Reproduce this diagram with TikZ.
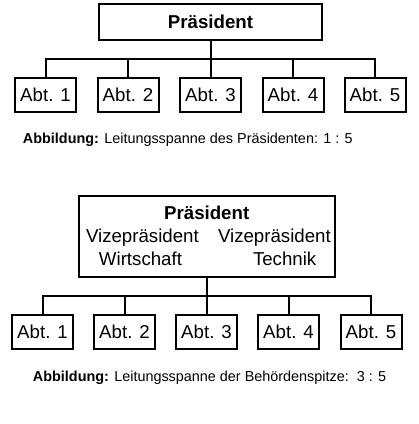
\documentclass[tikz,border=0pt]{standalone}
\usepackage{fontspec}
\setmainfont{Liberation Sans}
\begin{document}
\begin{tikzpicture}[x=1pt,y=-1pt,line width=2pt,
  box/.style={draw,rectangle,inner sep=0pt,minimum width=61pt,minimum height=34pt,font=\fontsize{18.67}{23}\selectfont},
  lbl/.style={inner sep=0pt,anchor=base west,font=\fontsize{18.67}{23}\selectfont},
  captxt/.style={inner sep=0pt,anchor=base west,font=\fontsize{14.4}{17}\selectfont}]
\fill[white] (0,0) rectangle (419,424);
\useasboundingbox (0,0) rectangle (419,424);
% ---- top chart
\node[box,minimum width=223pt,minimum height=36pt,font=\fontsize{18.67}{23}\selectfont\bfseries] (p1) at (210.5,22) {Präsident};
\node[box] (a1) at (45.5,94.7) {Abt. 1};
\node[box] (a2) at (128,94.7) {Abt. 2};
\node[box] (a3) at (210.5,94.7) {Abt. 3};
\node[box] (a4) at (293,94.7) {Abt. 4};
\node[box] (a5) at (375,94.7) {Abt. 5};
\coordinate (bus1) at (210.5,59);
\draw (p1.south) -- (bus1);
\draw (a1.north) |- (bus1) -| (a5.north);
\draw (a2.north) -- (a2.north |- bus1);
\draw (a3.north) -- (a3.north |- bus1);
\draw (a4.north) -- (a4.north |- bus1);
\node[captxt] (c1) at (22,143) {\textbf{Abbildung:} Leitungsspanne des Präsidenten: 1 : 5};
% ---- bottom chart
\node[box,minimum width=256pt,minimum height=81pt] (p2) at (207,236.7) {};
\node[lbl,anchor=base,font=\fontsize{18.67}{23}\selectfont\bfseries] (t1) at (206.7,219) {Präsident};
\node[lbl] (t2) at (85,242) {Vizepräsident};
\node[lbl] (t3) at (217,242) {Vizepräsident};
\node[lbl] (t4) at (98,265) {Wirtschaft};
\node[lbl] (t5) at (252,265) {Technik};
\node[box] (b1) at (42.5,332) {Abt. 1};
\node[box] (b2) at (124.5,332) {Abt. 2};
\node[box] (b3) at (206.5,332) {Abt. 3};
\node[box] (b4) at (288.5,332) {Abt. 4};
\node[box] (b5) at (371,332) {Abt. 5};
\coordinate (bus2) at (207,296);
\draw (p2.south) -- (bus2);
\draw (b1.north) |- (bus2) -| (b5.north);
\draw (b2.north) -- (b2.north |- bus2);
\draw (b3.north) -- (b3.north |- bus2);
\draw (b4.north) -- (b4.north |- bus2);
\node[captxt] (c2) at (32,381.5) {\textbf{Abbildung:} Leitungsspanne der Behördenspitze:\ \ 3 : 5};
\end{tikzpicture}
\end{document}
